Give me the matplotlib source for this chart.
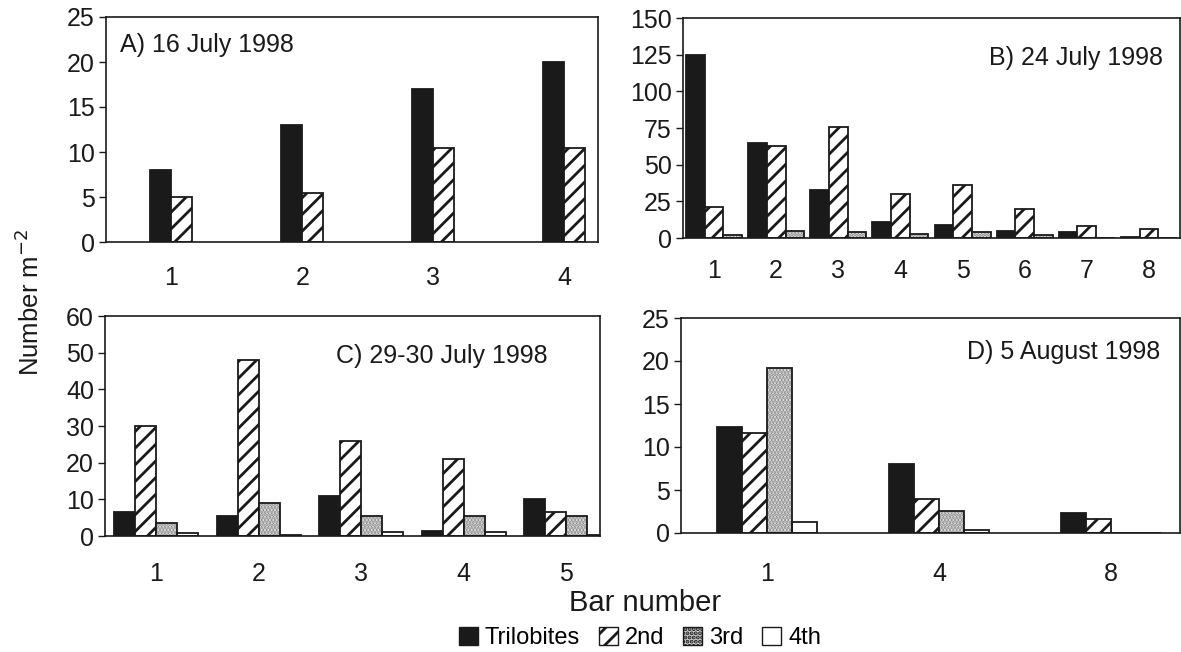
import matplotlib
matplotlib.use("Agg")
import matplotlib.pyplot as plt
from matplotlib.patches import Patch
import numpy as np

plt.rcParams['font.family'] = ['Liberation Sans', 'DejaVu Sans']
plt.rcParams['hatch.linewidth'] = 2.0

# ---- data ----
series_names = ["Trilobites", "2nd", "3rd", "4th"]

a_labels = ["1", "2", "3", "4"]
a_tril = [8, 13, 17, 20]
a_2nd = [5, 5.5, 10.5, 10.5]

b_labels = ["1", "2", "3", "4", "5", "6", "7", "8"]
b_tril = [125, 65, 33, 11, 9, 5, 4, 1]
b_2nd = [21, 63, 76, 30, 36, 20, 8, 6]
b_3rd = [2, 5, 4, 3, 4, 2, 0, 0]

c_labels = ["1", "2", "3", "4", "5"]
c_tril = [6.5, 5.5, 11, 1.5, 10]
c_2nd = [30, 48, 26, 21, 6.5]
c_3rd = [3.5, 9, 5.5, 5.5, 5.5]
c_4th = [0.8, 0.4, 1.0, 1.0, 0.3]

d_labels = ["1", "4", "8"]
d_tril = [12.3, 8, 2.3]
d_2nd = [11.6, 4, 1.6]
d_3rd = [19.2, 2.6, 0]
d_4th = [1.3, 0.3, 0]

W, H = 1181, 652
fig = plt.figure(figsize=(W / 100, H / 100), dpi=100)


def ax_at(l, r, t, b):
    return fig.add_axes([l / W, 1 - b / H, (r - l) / W, (b - t) / H])


EDGE_LW = 1.3
DARK = '#1a1a1a'
FS = 18


def draw_series(ax, x, vals, kind, width):
    if kind == 0:
        ax.bar(x, vals, width, color=DARK, edgecolor=DARK, linewidth=EDGE_LW, zorder=3)
    elif kind == 1:
        ax.bar(x, vals, width, color='white', edgecolor=DARK, hatch='//', linewidth=EDGE_LW, zorder=3)
    elif kind == 2:
        ax.bar(x, vals, width, color='#f0f0f0', edgecolor='#888888', hatch='.....', linewidth=0, zorder=3)
        ax.bar(x, vals, width, fill=False, edgecolor=DARK, linewidth=EDGE_LW, zorder=4)
    else:
        ax.bar(x, vals, width, color='white', edgecolor=DARK, linewidth=EDGE_LW, zorder=3)


def panel(ax, labels, series, kinds, width, xlim, ylim, yticks, title, tx, ty, ha, xpad):
    n = len(series)
    x = np.arange(len(labels))
    for i, (vals, k) in enumerate(zip(series, kinds)):
        off = (i - (n - 1) / 2) * width
        draw_series(ax, x + off, vals, k, width)
    ax.set_xlim(*xlim)
    ax.set_ylim(*ylim)
    ax.set_yticks(yticks)
    ax.set_xticks(x)
    ax.set_xticklabels(labels)
    ax.tick_params(axis='x', length=0, pad=xpad, labelsize=FS, colors=DARK)
    ax.tick_params(axis='y', length=5, width=1, direction='out', pad=3, labelsize=FS, colors=DARK)
    for s in ax.spines.values():
        s.set_linewidth(1.2)
        s.set_color(DARK)
        s.set_zorder(5)
    ax.text(tx, ty, title, transform=ax.transAxes, ha=ha, va='center', fontsize=FS, color=DARK)


axA = ax_at(106, 598, 17, 242)
panel(axA, a_labels, [a_tril, a_2nd], [0, 1], 0.16, (-0.5, 3.26), (0, 25),
      [0, 5, 10, 15, 20, 25], "A) 16 July 1998", 0.028, 0.876, 'left', 17)

axB = ax_at(683, 1180, 18, 238)
panel(axB, b_labels, [b_tril, b_2nd, b_3rd], [0, 1, 2], 0.3, (-0.5, 7.5), (0, 150),
      [0, 25, 50, 75, 100, 125, 150], "B) 24 July 1998", 0.966, 0.82, 'right', 15)

axC = ax_at(105, 600, 316, 536)
panel(axC, c_labels, [c_tril, c_2nd, c_3rd, c_4th], [0, 1, 2, 3], 0.205, (-0.5, 4.33), (0, 60),
      [0, 10, 20, 30, 40, 50, 60], "C) 29-30 July 1998", 0.895, 0.82, 'right', 19)

axD = ax_at(681, 1180, 318, 533)
panel(axD, d_labels, [d_tril, d_2nd, d_3rd, d_4th], [0, 1, 2, 3], 0.145, (-0.5, 2.4), (0, 25),
      [0, 5, 10, 15, 20, 25], "D) 5 August 1998", 0.96, 0.84, 'right', 21)

fig.text(30 / W, 1 - 302 / H, "Number m$^{-2}$", rotation=90, ha='center', va='center',
         fontsize=18.5, color=DARK)
fig.text(645 / W, 1 - 603 / H, "Bar number", ha='center', va='center', fontsize=21, color=DARK)

handles = [
    Patch(facecolor=DARK, edgecolor=DARK, label=series_names[0]),
    Patch(facecolor='white', edgecolor=DARK, hatch='//', label=series_names[1]),
    Patch(facecolor='#d0d0d0', edgecolor=DARK, hatch='....', label=series_names[2]),
    Patch(facecolor='white', edgecolor=DARK, label=series_names[3]),
]
fig.legend(handles=handles, loc='center', bbox_to_anchor=(640 / W, 1 - 638 / H), ncol=4,
           frameon=False, fontsize=17, handlelength=0.8, handleheight=0.8,
           handletextpad=0.3, columnspacing=0.8)

fig.savefig("out.png", dpi=100)
